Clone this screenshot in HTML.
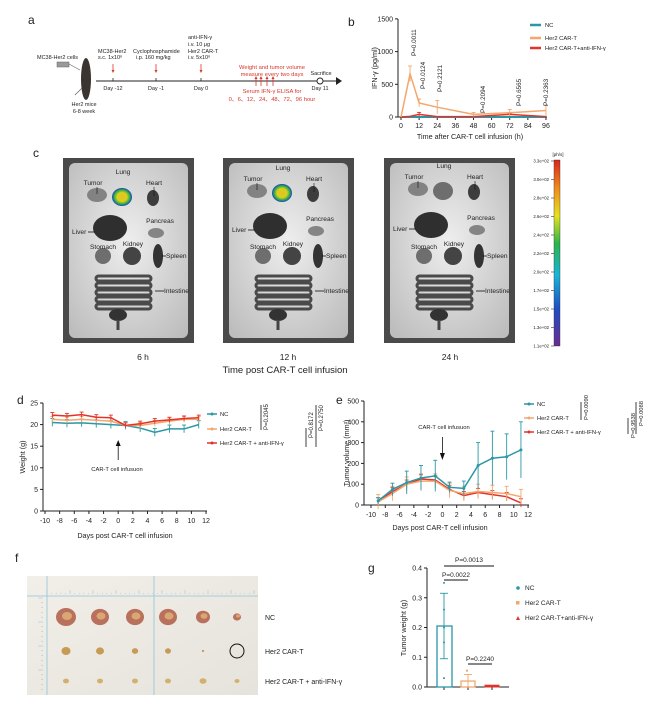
<!DOCTYPE html>
<html><head><meta charset="utf-8"><style>
html,body{margin:0;padding:0;background:#fff;}
svg{display:block;font-family:"Liberation Sans",Arial,sans-serif;}
</style></head><body>
<svg id="s" width="650" height="716" viewBox="0 0 650 716" xmlns="http://www.w3.org/2000/svg">
<defs>
<linearGradient id="cb" x1="0" y1="1" x2="0" y2="0">
<stop offset="0" stop-color="#6a2c91"/><stop offset="0.2" stop-color="#1f4fc4"/><stop offset="0.38" stop-color="#19b4d8"/><stop offset="0.55" stop-color="#2bb54a"/><stop offset="0.7" stop-color="#e5e21f"/><stop offset="0.85" stop-color="#f08a1c"/><stop offset="1" stop-color="#d7261e"/></linearGradient>
<radialGradient id="ph" cx="0.5" cy="0.45" r="0.7"><stop offset="0" stop-color="#eeeeee"/><stop offset="1" stop-color="#bdbdbd"/></radialGradient>
<radialGradient id="lung" cx="0.5" cy="0.5" r="0.5"><stop offset="0" stop-color="#e8c020"/><stop offset="0.5" stop-color="#d6d020"/><stop offset="0.8" stop-color="#2aa84a"/><stop offset="1" stop-color="#2040c0"/></radialGradient>
<linearGradient id="fp" x1="0" y1="0" x2="1" y2="1"><stop offset="0" stop-color="#f2efe9"/><stop offset="1" stop-color="#e6e2dc"/></linearGradient>
</defs>
<g id="g"></g>
</svg>
<script>
const NS="http://www.w3.org/2000/svg",G=document.getElementById('g');
function el(t,a,p){const e=document.createElementNS(NS,t);for(const k in a)e.setAttribute(k,a[k]);(p||G).appendChild(e);return e;}
function tx(x,y,s,sz,o){o=o||{};const a={x:x,y:y,'font-size':sz,fill:o.fill||'#222'};if(o.anchor)a['text-anchor']=o.anchor;if(o.rot!==undefined)a.transform=`rotate(${o.rot} ${x} ${y})`;const e=el('text',a);e.textContent=s;return e;}
function ln(x1,y1,x2,y2,c,w){return el('line',{x1,y1,x2,y2,stroke:c||'#222','stroke-width':w||1});}
const TEAL='#2a97a6',OR='#f3a76c',RED='#e2332b',DR='#d9362c';

// ===== panel a =====
tx(28,24,'a',12);
tx(37,59,'MC38-Her2 cells',5.5);
el('rect',{x:57,y:62,width:12,height:5,fill:'#999',stroke:'#666','stroke-width':0.5});
ln(69,64,80,70,'#666',0.6);
el('ellipse',{cx:86,cy:79,rx:5,ry:21,fill:'#3a3530'});
ln(75,95,82,88,'#555',0.6);
tx(84,106,'Her2 mice',5.5,{anchor:'middle'});tx(84,113,'6-8 week',5.5,{anchor:'middle'});
ln(96,81,336,81,'#222',0.9);
el('polygon',{points:'336,77 342,81 336,85',fill:'#222'});
[[113,'Day -12'],[156,'Day -1'],[201,'Day 0'],[320,'Day 11']].forEach(d=>{ln(d[0],78,d[0],81,'#222',0.8);tx(d[0],90,d[1],5.5,{anchor:'middle'});});
el('circle',{cx:320,cy:81,r:3,fill:'#fff',stroke:'#222','stroke-width':0.9});
tx(321,75,'Sacrifice',5.5,{anchor:'middle'});
[113,156,201].forEach(x=>{ln(x,64,x,71,DR,0.8);el('polygon',{points:`${x-1.5},70 ${x+1.5},70 ${x},73`,fill:DR});});
tx(98,53,'MC38-Her2',5.5);tx(98,59,'s.c.  1x10⁶',5.5);
tx(133,53,'Cyclophosphamide',5.5);tx(136,59,'i.p.  160 mg/kg',5.5);
tx(188,39,'anti-IFN-γ',5.5);tx(188,46,'i.v.  10 μg',5.5);tx(188,53,'Her2 CAR-T',5.5);tx(188,59,'i.v.  5x10⁶',5.5);
tx(272,69,'Weight and tumor volume',5.8,{anchor:'middle',fill:DR});
tx(272,76,'measure every two days',5.8,{anchor:'middle',fill:DR});
[256,261,267,273].forEach(x=>{ln(x,78,x,86,DR,0.8);el('polygon',{points:`${x-1.5},79 ${x+1.5},79 ${x},76`,fill:DR});});
tx(272,93,'Serum IFN-γ ELISA for',5.8,{anchor:'middle',fill:DR});
tx(272,101,'0、6、12、24、48、72、96 hour',5.8,{anchor:'middle',fill:DR});

// ===== panel b =====
tx(348,26,'b',12);
const bx=h=>401+h*1.51,by=v=>117-v*0.0654;
ln(398,19,398,117);ln(398,117,547,117);
[0,500,1000,1500].forEach(v=>{ln(395,by(v),398,by(v));tx(393,by(v)+2.5,v,7,{anchor:'end'});});
[0,12,24,36,48,60,72,84,96].forEach(h=>{ln(bx(h),117,bx(h),120);tx(bx(h),128,h,7,{anchor:'middle'});});
tx(470,139,'Time after CAR-T cell infusion (h)',7.2,{anchor:'middle'});
tx(377,68,'IFN-γ (pg/ml)',7.2,{anchor:'middle',rot:-90});
function series(pts,col,xf,yf,w){el('polyline',{points:pts.map(p=>xf(p[0])+','+yf(p[1])).join(' '),fill:'none',stroke:col,'stroke-width':w||1.5});
 pts.forEach(p=>{if(p[2]){ln(xf(p[0]),yf(p[1]-p[2]),xf(p[0]),yf(p[1]+p[2]),col,0.9);ln(xf(p[0])-2,yf(p[1]+p[2]),xf(p[0])+2,yf(p[1]+p[2]),col,0.9);}});}
series([[0,0],[6,0],[12,0],[24,0],[48,0],[72,0],[96,0]],TEAL,bx,by,2);
series([[0,0],[6,10],[12,40,30],[24,5],[48,5],[72,40,15],[96,5]],RED,bx,by);
series([[0,0],[6,660,120],[12,215,60],[24,150,100],[48,40,30],[72,65,50],[96,100,80]],OR,bx,by);
[[412,30,'P=0.0011'],[421,63,'P=0.0124'],[438,66,'P=0.2121'],[481,87,'P=0.2094'],[517,80,'P=0.6565'],[544,80,'P=0.2363']].forEach(p=>{tx(p[0]+4,p[1]+26,p[2],6.3,{rot:-90});});
[[25,TEAL,'NC'],[38,OR,'Her2 CAR-T'],[48,RED,'Her2 CAR-T+anti-IFN-γ']].forEach(l=>{ln(530,l[0],541,l[0],l[1],2.5);tx(545,l[0]+2,l[2],5.8);});

// ===== panel c =====
tx(33,157,'c',12);
function photo(x0,dx,lungColor,v){
 el('rect',{x:x0,y:158,width:131,height:185,fill:'#4a4a4a'});
 el('rect',{x:x0+6,y:163,width:119,height:175,rx:6,fill:'url(#ph)'});
 const o=x=>x+dx;const dk='#3d3d3d',md='#6e6e6e';
 el('ellipse',{cx:o(97),cy:195+v,rx:10,ry:7,fill:md,opacity:0.8});
 el('ellipse',{cx:o(122),cy:197+v,rx:10,ry:9,fill:lungColor?'url(#lung)':md});
 el('ellipse',{cx:o(153),cy:198+v,rx:6,ry:8,fill:dk});
 el('ellipse',{cx:o(110),cy:228+v*0.5,rx:17,ry:13,fill:'#2f2f2f'});
 el('ellipse',{cx:o(156),cy:233+v*0.5,rx:8,ry:5,fill:md,opacity:0.8});
 el('ellipse',{cx:o(103),cy:256,rx:8,ry:8,fill:md});
 el('ellipse',{cx:o(132),cy:256,rx:9,ry:9,fill:'#444'});
 el('ellipse',{cx:o(158),cy:256,rx:5,ry:12,fill:'#333'});
 for(let i=0;i<5;i++)el('rect',{x:o(96),y:276+i*7,width:55,height:5,rx:2.5,fill:'none',stroke:'#4a4a4a','stroke-width':3});
 el('ellipse',{cx:o(118),cy:315,rx:9,ry:6,fill:'#333'});
 ln(o(118),320,o(118),330,'#444',3);
 const lbl=(x,y,s,a)=>tx(o(x),y,s,6.6,{anchor:a});
 lbl(93,185+v,'Tumor','middle');lbl(123,174+v,'Lung','middle');lbl(154,185+v,'Heart','middle');
 lbl(72,234+v*0.5,'Liver');ln(o(88),232+v*0.5,o(95),232+v*0.5,'#111',0.8);
 lbl(160,223+v*0.5,'Pancreas','middle');lbl(103,249,'Stomach','middle');lbl(133,246,'Kidney','middle');
 lbl(166,258,'Spleen');ln(o(162),256,o(166),256,'#111',0.8);
 lbl(164,293,'Intestine');ln(o(155),291,o(164),291,'#111',0.8);
 ln(o(97),187+v,o(97),194+v,'#111',0.6);ln(o(154),187+v,o(154),196+v,'#111',0.6);
}
photo(63,0,true,0);photo(223,160,true,-4);photo(384,321,false,-6);
tx(143,360,'6 h',8.5,{anchor:'middle'});tx(288,360,'12 h',8.5,{anchor:'middle'});tx(450,360,'24 h',8.5,{anchor:'middle'});
tx(285,373,'Time post CAR-T cell infusion',9.5,{anchor:'middle'});
el('rect',{x:554,y:160,width:6,height:186,fill:'url(#cb)',stroke:'#333','stroke-width':0.4});
tx(558,156,'[ph/s]',4.5,{anchor:'middle'});
['3.3e+02','3.0e+02','2.8e+02','2.6e+02','2.4e+02','2.2e+02','2.0e+02','1.7e+02','1.5e+02','1.3e+02','1.1e+02'].forEach((s,i)=>{const y=161+i*18.5;tx(549,y+1.5,s,4.3,{anchor:'end'});ln(551,y,554,y,'#333',0.6);});

// ===== panel d =====
tx(17,404,'d',12);
const dx=t=>45+(t+10)*7.32,dy=v=>511-v*4.32;
ln(43,403,43,511);ln(43,511,207,511);
[0,5,10,15,20,25].forEach(v=>{ln(40,dy(v),43,dy(v));tx(38,dy(v)+2.5,v,7,{anchor:'end'});});
[-10,-8,-6,-4,-2,0,2,4,6,8,10,12].forEach(t=>{ln(dx(t),511,dx(t),514);tx(dx(t),523,t,7,{anchor:'middle'});});
tx(125,538,'Days post CAR-T cell infusion',7.2,{anchor:'middle'});
tx(25,457,'Weight (g)',7.2,{anchor:'middle',rot:-90});
const D=[-9,-7,-5,-3,-1,1,3,5,7,9,11];
const wNC=[20.5,20.3,20.4,20.2,20,19.8,19.2,18.2,19,19,20],wO=[21.2,21,21.2,21,20.8,19.8,19.8,20.3,20.8,21.2,21.2],wR=[22.2,22,22.3,21.7,21.6,19.8,20.2,20.8,21.1,21.4,21.6];
series(D.map((t,i)=>[t,wNC[i],0.9]),TEAL,dx,dy);
series(D.map((t,i)=>[t,wO[i],0.7]),OR,dx,dy);
series(D.map((t,i)=>[t,wR[i],0.6]),RED,dx,dy);
ln(dx(0),442,dx(0),460,'#111',0.8);el('polygon',{points:`${dx(0)-2.5},446 ${dx(0)+2.5},446 ${dx(0)},440`,fill:'#111'});
tx(117,471,'CAR-T cell infusuon',5.8,{anchor:'middle'});
[[414,TEAL,'NC'],[429,OR,'Her2 CAR-T'],[443,RED,'Her2 CAR-T + anti-IFN-γ']].forEach(l=>{ln(207,l[0],217,l[0],l[1],1.5);el('circle',{cx:212,cy:l[0],r:1.5,fill:l[1]});tx(220,l[0]+2,l[2],5.8);});
ln(261,405,261,430,'#111',0.8);tx(268,430,'P=0.2045',6,{rot:-90});
ln(306,428,306,447,'#111',0.8);tx(313,438,'P=0.8172',6,{rot:-90});
ln(316,405,316,447,'#111',0.8);tx(323,431,'P=0.2750',6,{rot:-90});

// ===== panel e =====
tx(336,404,'e',12);
const ex=t=>371+(t+10)*7.14,ey=v=>505-v*0.208;
ln(364,401,364,505);ln(364,505,529,505);
[0,100,200,300,400,500].forEach(v=>{ln(361,ey(v),364,ey(v));tx(359,ey(v)+2.5,v,7,{anchor:'end'});});
[-10,-8,-6,-4,-2,0,2,4,6,8,10,12].forEach(t=>{ln(ex(t),505,ex(t),508);tx(ex(t),517,t,7,{anchor:'middle'});});
tx(440,530,'Days post CAR-T cell infusion',7.2,{anchor:'middle'});
tx(349,453,'Tumor volume (mm³)',7.2,{anchor:'middle',rot:-90});
const eNC=[20,75,108,130,140,85,80,190,225,232,265],eNCe=[15,30,55,60,75,25,35,110,130,110,135];
const eO=[15,55,100,115,115,70,55,65,60,55,40],eR=[15,65,100,125,120,75,45,60,50,40,10];
series(D.map((t,i)=>[t,eR[i],20]),RED,ex,ey);
series(D.map((t,i)=>[t,eO[i],35]),OR,ex,ey);
series(D.map((t,i)=>[t,eNC[i],eNCe[i]]),TEAL,ex,ey);
D.forEach((t,i)=>el('circle',{cx:ex(t),cy:ey(eNC[i]),r:1.5,fill:TEAL}));
ln(ex(0),437,ex(0),457,'#111',0.8);el('polygon',{points:`${ex(0)-2.5},453 ${ex(0)+2.5},453 ${ex(0)},460`,fill:'#111'});
tx(444,429,'CAR-T cell infusuon',5.8,{anchor:'middle'});
[[404,TEAL,'NC'],[418,OR,'Her2 CAR-T'],[432,RED,'Her2 CAR-T + anti-IFN-γ']].forEach(l=>{ln(524,l[0],534,l[0],l[1],1.5);el('circle',{cx:529,cy:l[0],r:1.5,fill:l[1]});tx(537,l[0]+2,l[2],5.8);});
ln(581,402,581,420,'#111',0.8);tx(588,420,'P=0.0090',5.8,{rot:-90});
ln(628,418,628,434,'#111',0.8);tx(635,438,'P=0.9538',5.8,{rot:-90});
ln(636,402,636,434,'#111',0.8);tx(643,426,'P=0.0088',5.8,{rot:-90});

// ===== panel f =====
tx(15,562,'f',12);
el('rect',{x:27,y:576,width:231,height:119,fill:'url(#fp)'});
ln(27,596,258,596,'#8fc3dc',0.8);ln(154,576,154,695,'#8fc3dc',0.8);ln(47,576,47,695,'#8fc3dc',0.8);
for(let i=0;i<46;i++){const x=47+i*4.6;ln(x,594,x,i%5==0?590:593,'#8fc3dc',0.5);}
for(let i=0;i<20;i++){const y=598+i*4.8;ln(43,y,i%5==0?38:41,y,'#8fc3dc',0.5);}
[[66,10],[100,9],[135,9],[168,9],[203,7],[237,4]].forEach(t=>{el('ellipse',{cx:t[0],cy:617,rx:t[1],ry:t[1]*0.9,fill:'#b9705c'});el('ellipse',{cx:t[0]+1,cy:616,rx:t[1]*0.5,ry:t[1]*0.4,fill:'#d9a773'});});
[[66,4.5],[100,4],[135,3.2],[168,3],[203,1.2]].forEach(t=>el('ellipse',{cx:t[0],cy:651,rx:t[1],ry:t[1]*0.9,fill:'#c79a55'}));
el('circle',{cx:237,cy:651,r:7,fill:'none',stroke:'#111','stroke-width':1});
[[66,3],[100,3],[135,3],[168,3],[203,3.5],[237,2.5]].forEach(t=>el('ellipse',{cx:t[0],cy:681,rx:t[1],ry:t[1]*0.8,fill:'#d4b070'}));
tx(265,620,'NC',7);tx(265,654,'Her2 CAR-T',7);tx(265,684,'Her2 CAR-T + anti-IFN-γ',7);

// ===== panel g =====
tx(368,572,'g',12);
const gy=v=>687-v*297.5;
ln(427,568,427,687);ln(427,687,509,687);
[0,0.1,0.2,0.3,0.4].forEach(v=>{ln(424,gy(v),427,gy(v));tx(422,gy(v)+2.5,v.toFixed(1),7,{anchor:'end'});});
[444,468,492].forEach(x=>ln(x,687,x,690));
tx(406,628,'Tumor weight (g)',7.5,{anchor:'middle',rot:-90});
el('rect',{x:437,y:gy(0.205),width:15,height:gy(0)-gy(0.205),fill:'none',stroke:TEAL,'stroke-width':1.3});
ln(444,gy(0.095),444,gy(0.315),TEAL,0.9);ln(440,gy(0.315),448,gy(0.315),TEAL,0.9);ln(440,gy(0.095),448,gy(0.095),TEAL,0.9);
[0.35,0.26,0.2,0.15,0.03].forEach(v=>el('circle',{cx:444,cy:gy(v),r:1,fill:TEAL}));
el('rect',{x:461,y:gy(0.02),width:14,height:gy(0)-gy(0.02),fill:'none',stroke:OR,'stroke-width':1.3});
ln(468,gy(0),468,gy(0.042),OR,0.9);ln(464,gy(0.042),472,gy(0.042),OR,0.9);
el('rect',{x:466,y:gy(0.055)-1,width:2,height:2,fill:OR});
el('rect',{x:485,y:gy(0.006),width:14,height:gy(0)-gy(0.006),fill:RED,stroke:RED,'stroke-width':1});
ln(444,566,494,566,'#111',0.9);tx(469,562,'P=0.0013',6.5,{anchor:'middle'});
ln(444,580,468,580,'#111',0.9);tx(456,577,'P=0.0022',6.5,{anchor:'middle'});
ln(468,664,492,664,'#111',0.9);tx(480,661,'P=0.2240',6.5,{anchor:'middle'});
el('circle',{cx:518,cy:588,r:1.8,fill:TEAL});tx(525,590,'NC',6.5);
el('rect',{x:516,y:601,width:3.5,height:3.5,fill:OR});tx(525,605,'Her2 CAR-T',6.5);
el('polygon',{points:'516,620 520,620 518,616',fill:RED});tx(525,620,'Her2 CAR-T+anti-IFN-γ',6.5);
</script>
</body></html>
